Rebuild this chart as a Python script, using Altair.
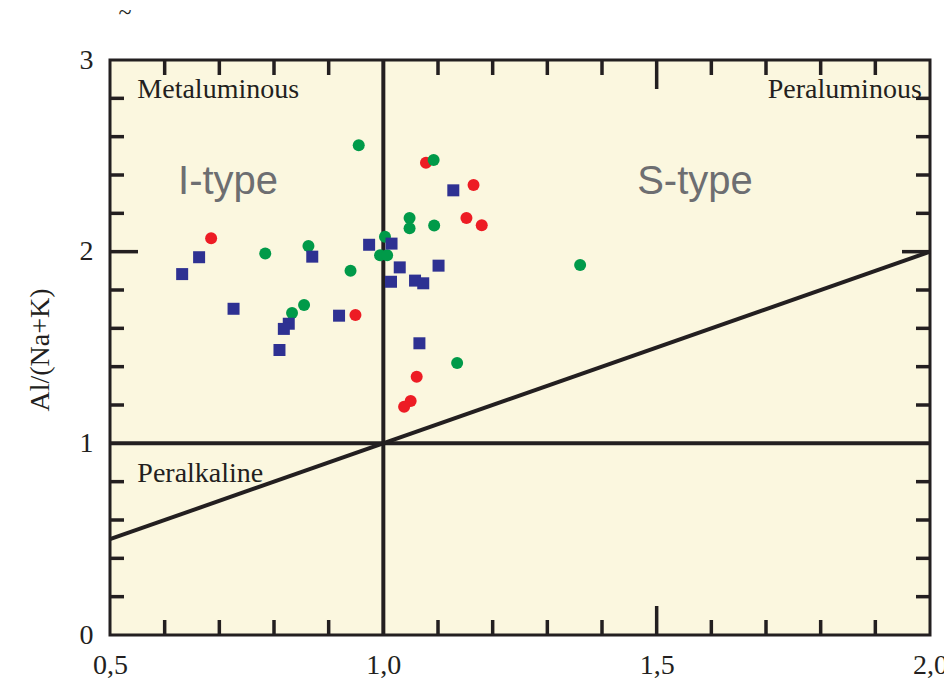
import altair as alt
import pandas as pd

# Sample groups: x = A/CNK, y = A/NK
red_x = [0.685, 0.949, 1.078, 1.165, 1.152, 1.180, 1.061, 1.050, 1.038]
red_y = [2.070, 1.670, 2.464, 2.348, 2.176, 2.138, 1.348, 1.221, 1.191]

green_x = [0.784, 0.863, 0.940, 0.855, 0.833, 0.955, 1.092, 1.048, 1.048,
           1.093, 1.003, 0.994, 1.007, 1.135, 1.360]
green_y = [1.991, 2.030, 1.901, 1.722, 1.680, 2.555, 2.478, 2.176, 2.122,
           2.136, 2.078, 1.981, 1.981, 1.419, 1.930]

blue_x = [0.663, 0.632, 0.870, 0.726, 0.827, 0.818, 0.810, 0.919, 1.128,
          0.974, 1.015, 1.030, 1.101, 1.014, 1.058, 1.073, 1.066]
blue_y = [1.971, 1.883, 1.974, 1.702, 1.624, 1.597, 1.487, 1.666, 2.320,
          2.036, 2.042, 1.918, 1.927, 1.843, 1.849, 1.835, 1.522]

# Field boundaries
line_x0 = [0.5, 1.0, 0.5]
line_y0 = [1.0, 0.0, 0.5]
line_x1 = [2.0, 1.0, 2.0]
line_y1 = [1.0, 3.0, 2.0]

# Tick marks drawn inside the frame
x_minor = [0.6, 0.7, 0.8, 0.9, 1.1, 1.2, 1.3, 1.4, 1.6, 1.7, 1.8, 1.9]
x_major = [1.5]
y_minor = [0.2, 0.4, 0.6, 0.8, 1.2, 1.4, 1.6, 1.8, 2.2, 2.4, 2.6, 2.8]
y_major = [2.0]

x_labels = [0.5, 1.0, 1.5, 2.0]
y_labels = [0, 1, 2, 3]

# Field names
left_text = ["Metaluminous", "Peralkaline"]
left_x = [0.55, 0.55]
left_y = [2.8, 0.8]
right_text = ["Peraluminous"]
right_x = [1.985]
right_y = [2.8]

type_text = ["I-type", "S-type"]
type_x = [0.716, 1.570]
type_y = [2.3, 2.3]

INK = "#231f20"
SERIF = "Liberation Serif"
W, H = 820, 575

xs = alt.Scale(domain=[0.5, 2.0], nice=False, zero=False)
ys = alt.Scale(domain=[0, 3], nice=False, zero=True)

pts = pd.concat([
    pd.DataFrame({"x": red_x, "y": red_y, "g": "red", "o": 0}),
    pd.DataFrame({"x": green_x, "y": green_y, "g": "green", "o": 1}),
    pd.DataFrame({"x": blue_x, "y": blue_y, "g": "blue", "o": 2}),
], ignore_index=True)

x_axis = alt.Axis(values=x_labels, labelExpr="replace(format(datum.value, '.1f'), '.', ',')",
                  ticks=False, domain=False, grid=False, labelFlush=False,
                  labelOverlap=False, labelFont=SERIF, labelFontSize=28,
                  labelColor=INK, labelPadding=16, title=None)
y_axis = alt.Axis(values=y_labels, format="d", ticks=False, domain=False, grid=False,
                  labelFlush=False, labelOverlap=False, labelFont=SERIF,
                  labelFontSize=28, labelColor=INK, labelPadding=17,
                  title="Al/(Na+K)", titleFont=SERIF, titleFontSize=28,
                  titleFontWeight="normal", titleColor=INK, titleAngle=270,
                  titleX=-70, titleY=H / 2 + 2, titleAlign="center",
                  titleBaseline="middle")


def X(field):
    return alt.X(field, scale=xs, axis=x_axis)


def Y(field):
    return alt.Y(field, scale=ys, axis=y_axis)


lines = alt.Chart(pd.DataFrame({"x0": line_x0, "y0": line_y0,
                                "x1": line_x1, "y1": line_y1})).mark_rule(
    color=INK, strokeWidth=4, strokeCap="butt").encode(
    x=X("x0:Q"), y=Y("y0:Q"), x2="x1:Q", y2="y1:Q")

tick_style = dict(color=INK, strokeWidth=3.5)
xmin_df = pd.DataFrame({"v": x_minor})
xmaj_df = pd.DataFrame({"v": x_major})
ymin_df = pd.DataFrame({"v": y_minor})
ymaj_df = pd.DataFrame({"v": y_major})


def xticks(df, length):
    top = alt.Chart(df).mark_rule(**tick_style).encode(
        x=X("v:Q"), y=alt.value(0), y2=alt.value(length))
    bottom = alt.Chart(df).mark_rule(**tick_style).encode(
        x=X("v:Q"), y=alt.value(H), y2=alt.value(H - length))
    return top + bottom


def yticks(df, length):
    left = alt.Chart(df).mark_rule(**tick_style).encode(
        y=Y("v:Q"), x=alt.value(0), x2=alt.value(length))
    right = alt.Chart(df).mark_rule(**tick_style).encode(
        y=Y("v:Q"), x=alt.value(W), x2=alt.value(W - length))
    return left + right


groups = ["red", "green", "blue"]
points = alt.Chart(pts).mark_point(filled=True, opacity=1, strokeWidth=0).encode(
    x=X("x:Q"),
    y=Y("y:Q"),
    color=alt.Color("g:N", scale=alt.Scale(domain=groups,
                                           range=["#ED1C24", "#009A49", "#2E3192"]),
                    legend=None),
    shape=alt.Shape("g:N", scale=alt.Scale(domain=groups,
                                           range=["circle", "circle", "square"]),
                    legend=None),
    size=alt.Size("g:N", scale=alt.Scale(domain=groups, range=[144, 144, 140]),
                  legend=None),
    order=alt.Order("o:Q"),
)


def field_labels(text, x, y, align):
    return alt.Chart(pd.DataFrame({"t": text, "x": x, "y": y})).mark_text(
        font=SERIF, fontSize=28, color=INK, baseline="alphabetic", align=align).encode(
        x=X("x:Q"), y=Y("y:Q"), text="t:N")


types = alt.Chart(pd.DataFrame({"t": type_text, "x": type_x, "y": type_y})).mark_text(
    font="Liberation Sans", fontSize=40, color="#6D6E71", baseline="alphabetic",
    align="center").encode(x=X("x:Q"), y=Y("y:Q"), text="t:N")

tilde = alt.Chart(pd.DataFrame({"t": ["~"]})).mark_text(
    font=SERIF, fontSize=24, color=INK, align="center", baseline="alphabetic").encode(
    x=alt.value(15), y=alt.value(-40), text="t:N")

chart = alt.layer(
    lines,
    xticks(xmin_df, 15), xticks(xmaj_df, 29),
    yticks(ymin_df, 14), yticks(ymaj_df, 28),
    field_labels(left_text, left_x, left_y, "left"),
    field_labels(right_text, right_x, right_y, "right"),
    types, points, tilde,
).properties(
    width=W, height=H,
    autosize=alt.AutoSizeParams(type="none"),
    padding={"left": 110, "top": 60, "right": 14, "bottom": 45},
    background="white",
).configure_view(
    fill="#FBF7DF", stroke=INK, strokeWidth=3,
)

chart.save("out.html", embed_options={"renderer": "svg", "actions": False})
